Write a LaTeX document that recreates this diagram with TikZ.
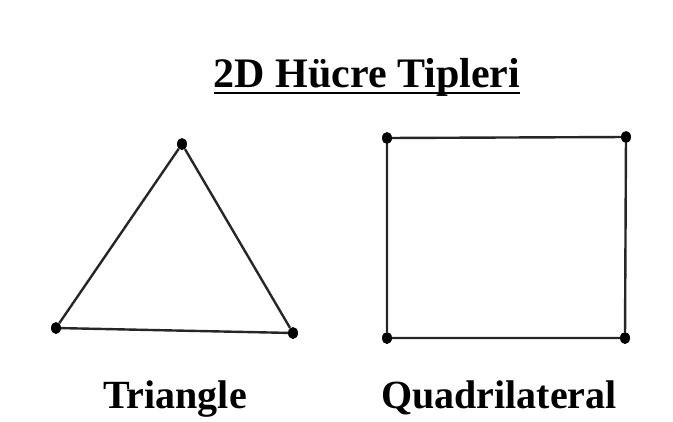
\documentclass[tikz,border=0pt]{standalone}
\usepackage{fontspec}
\setmainfont{Liberation Serif}
\usetikzlibrary{calc,shapes.geometric}

\begin{document}
\begin{tikzpicture}[
  x=1pt, y=-1pt,
  vertex/.style={ellipse, fill=black, inner sep=0pt, minimum width=10pt, minimum height=12pt},
  side/.style={line width=2.4pt, black!85},
  heading/.style={font=\bfseries\fontsize{42}{50}\selectfont, inner sep=0pt, anchor=base},
  celltext/.style={font=\bfseries\fontsize{40}{48}\selectfont, inner sep=0pt, anchor=base}
]
  \useasboundingbox (0,0) rectangle (673,421);
  %% Title
  \node[heading] (title) at (367,87) {2D Hücre Tipleri};
  \draw[line width=2.4pt] ($(title.base west)+(0,6)$) -- ($(title.base east)+(0,6)$);
  %% Triangle
  \node[vertex] (t1) at (182,144) {};
  \node[vertex] (t2) at (56,328) {};
  \node[vertex] (t3) at (293,333) {};
  \draw[side] (t1) -- (t2) -- (t3) -- (t1);
  %% Quadrilateral
  \node[vertex] (q1) at (387,138) {};
  \node[vertex] (q2) at (626,137) {};
  \node[vertex] (q3) at (625,338) {};
  \node[vertex] (q4) at (387,338) {};
  \draw[side] (q1) -- (q2) -- (q3) -- (q4) -- (q1);
  %% Names below
  \node[celltext] (tri) at (175,408) {Triangle};
  \node[celltext] (quad) at (499,408) {Quadrilateral};
\end{tikzpicture}
\end{document}
